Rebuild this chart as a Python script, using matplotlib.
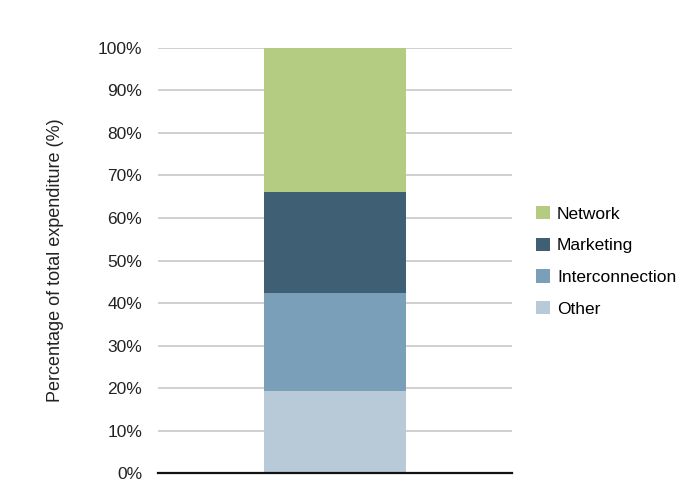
import numpy as np
import matplotlib
matplotlib.use("Agg")
from matplotlib import pyplot as plt
from matplotlib.patches import Patch

# stacked shares, bottom to top
categories = ["Other", "Interconnection", "Marketing", "Network"]
shares = [19.4, 22.9, 23.8, 33.9]
colors = ["#b8cad8", "#7a9fb8", "#3f5f75", "#b3cc82"]
yticks = list(range(0, 101, 10))
ytick_labels = [f"{t}%" for t in yticks]

plt.rcParams["font.family"] = ["Liberation Sans", "DejaVu Sans"]

fig = plt.figure(figsize=(6.83, 4.94), dpi=100)
ax = fig.add_axes([0.2313, 0.0415, 0.5183, 0.8623])

bottom = 0
for cat, val, col in zip(categories, shares, colors):
    ax.bar(0, val, width=0.4, bottom=bottom, color=col, zorder=3)
    bottom += val

ax.set_xlim(-0.5, 0.5)
ax.set_ylim(0, 100)
ax.set_yticks(yticks)
ax.set_yticklabels(ytick_labels, fontsize=12.5, color="#222222")
ax.set_xticks([])
ax.tick_params(axis="y", length=0, pad=11.5)
ax.grid(axis="y", color="#c8c8c8", linewidth=1.2, zorder=0)
for s in ["top", "right", "left"]:
    ax.spines[s].set_visible(False)
ax.spines["bottom"].set_linewidth(1.6)
ax.spines["bottom"].set_color("#111111")
ax.spines["bottom"].set_zorder(4)

ax.set_ylabel("Percentage of total expenditure (%)", fontsize=13, color="#222222", labelpad=24)

handles = [Patch(facecolor=c, label=l) for c, l in zip(colors[::-1], categories[::-1])]
fig.legend(handles=handles, loc="center left", bbox_to_anchor=(0.785, 0.471),
           frameon=False, fontsize=12.5, handlelength=0.8, handleheight=0.8,
           handletextpad=0.4, labelspacing=0.92, borderpad=0, borderaxespad=0)

fig.savefig("out.png", dpi=100)
